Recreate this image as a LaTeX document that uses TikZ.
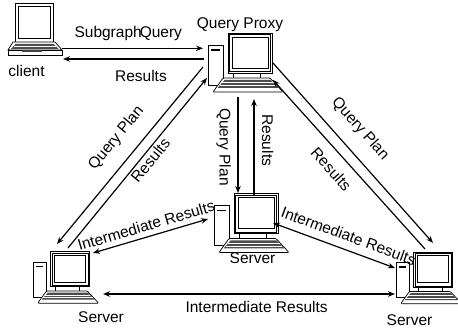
\documentclass[tikz,border=0pt]{standalone}
\usepackage{fontspec}
\setmainfont{Liberation Sans}
\usetikzlibrary{arrows.meta,calc,positioning}
\tikzstyle{host}=[inner sep=0pt,minimum width=75pt,minimum height=59pt]
\tikzstyle{hostlabel}=[font=\fontsize{15.5}{18}\selectfont,inner sep=0pt]
\tikzstyle{msg}=[font=\fontsize{15.5}{18}\selectfont]
\tikzstyle{link}=[draw,line width=1.2pt,-{Stealth[length=7pt,width=5.5pt]}]
\tikzstyle{linkback}=[draw,line width=1.2pt,{Stealth[length=7pt,width=5.5pt]}-]
\tikzstyle{twoway}=[draw,line width=1.2pt,{Stealth[length=7pt,width=5.5pt]}-{Stealth[length=7pt,width=5.5pt]}]
\tikzset{
  desktop/.pic={
    \draw[fill=white,line width=0.7pt] (-37.5,-17.5) rectangle (-22.5,22.5);
    \draw[line width=1.6pt] (-35,-12.5) -- (-26,-12.5);
    \draw[fill=white,line width=0.7pt] (-17.5,-29.5) rectangle (26.5,10.5);
    \draw[line width=0.5pt] (-16,-28) rectangle (25,9);
    \draw[fill=white,line width=0.7pt] (-13.5,-25.5) rectangle (22.5,5.5);
    \draw[line width=0.7pt] (-12,10.5) -- (-12,15.5) (15,10.5) -- (15,15.5);
    \draw[fill=white,line width=0.7pt,rounded corners=1pt] (-22.5,15.5) -- (24.5,15.5) -- (37.5,29.5) -- (-32.5,29.5) -- cycle;
    \fill[black!70] (-21,17.5) -- (25,17.5) -- (33,25.5) -- (-28,25.5) -- cycle;
    \draw[white,line width=0.5pt] (-24,20) -- (28,20) (-26,23) -- (30.5,23);
  },
  laptop/.pic={
    \draw[fill=white,line width=0.7pt] (-19.5,-26) rectangle (18.5,13);
    \draw[line width=0.7pt] (-16.5,-22.5) rectangle (15.5,9.5);
    \draw[fill=white,line width=0.7pt] (-21.5,13) -- (20.5,13) -- (27.5,21) -- (-26.5,21) -- cycle;
    \fill[black!70] (-19,15) -- (19,15) -- (24,20) -- (-23.5,20) -- cycle;
    \draw[white,line width=0.5pt] (-21,17.5) -- (21.5,17.5);
    \draw[fill=white,line width=0.7pt] (-26.5,21) rectangle (27.5,26);
    \fill[black!75] (-12.5,21) rectangle (7.5,23);
  }
}

\begin{document}
\begin{tikzpicture}[x=1pt,y=-1pt]

    \useasboundingbox (0,0) rectangle (458,328);

    % machines
    \node[host,minimum width=55pt,minimum height=52pt] (client) at (34.5,29) {};
    \pic at (client) {laptop};

    \foreach \x/\y/\s/\name in {245.5/62.5/1/proxy, 251.5/223/1/srvmid, 66/277.5/0.87/srvleft, 429/278/0.87/srvright}
    {
        \node[host] (\name) at (\x,\y) {};
        \pic[scale=\s] at (\name) {desktop};
    }

    \foreach \x/\y/\txt/\name in {26.5/71/client/clientlbl, 240/24.5/Query Proxy/proxylbl, 252.5/258.5/Server/midlbl, 101/317/Server/leftlbl, 409.5/320/Server/rightlbl}
        \node[hostlabel] (\name) at (\x,\y) {\txt};

    % client <-> proxy
    \path[link] ($(client)+(27.5,19.3)$) -- node[msg,pos=0.47,above,inner sep=6.6pt] {Subgraph\kern-2pt{}Query} ($(proxy)+(-42.5,-14.2)$);
    \path[link] ($(proxy)+(-41.5,-3.5)$) -- node[msg,pos=0.447,below,inner sep=11pt] {Results} ($(client)+(28.5,30)$);

    % proxy <-> servers
    \path[link] ($(proxy)+(-7.5,34.5)$) -- node[msg,pos=0.52,sloped,below,inner sep=6.6pt] {Query Plan} ($(srvmid)+(-13.5,-30)$);
    \path[linkback] ($(proxy)+(8.5,36.5)$) -- node[msg,pos=0.43,sloped,above,inner sep=7.3pt] {Results} ($(srvmid)+(2.5,-28)$);

    \path[link] ($(proxy)+(-42.5,4.5)$) -- node[msg,pos=0.48,sloped,above,inner sep=13.5pt] {Query Plan} ($(srvleft)+(-9,-33.5)$);
    \path[link] ($(srvleft)+(2,-29.5)$) -- node[msg,pos=0.546,sloped,below,inner sep=2pt] {Results} ($(proxy)+(-38.5,15.5)$);

    \path[link] ($(proxy)+(27.5,0.5)$) -- node[msg,pos=0.445,sloped,above,inner sep=13.5pt] {Query Plan} ($(srvright)+(4,-35)$);
    \path[link] ($(srvright)+(-4,-29)$) -- node[msg,pos=0.537,sloped,below,inner sep=10pt] {Results} ($(proxy)+(27.5,17.5)$);

    % server <-> server
    \path[twoway] ($(srvleft)+(27,-24.5)$) -- node[msg,pos=0.49,sloped,above,inner sep=5pt] {Intermediate Results} ($(srvmid)+(-43.5,-4)$);
    \path[twoway] ($(srvmid)+(21.5,0)$) -- node[msg,pos=0.58,sloped,above,inner sep=7.7pt] {Intermediate Results} ($(srvright)+(-34,-10)$);
    \path[twoway] ($(srvleft)+(37,16.5)$) -- node[msg,pos=0.526,below,inner sep=6.8pt] {Intermediate Results} ($(srvright)+(-34,16)$);

\end{tikzpicture}
\end{document}
